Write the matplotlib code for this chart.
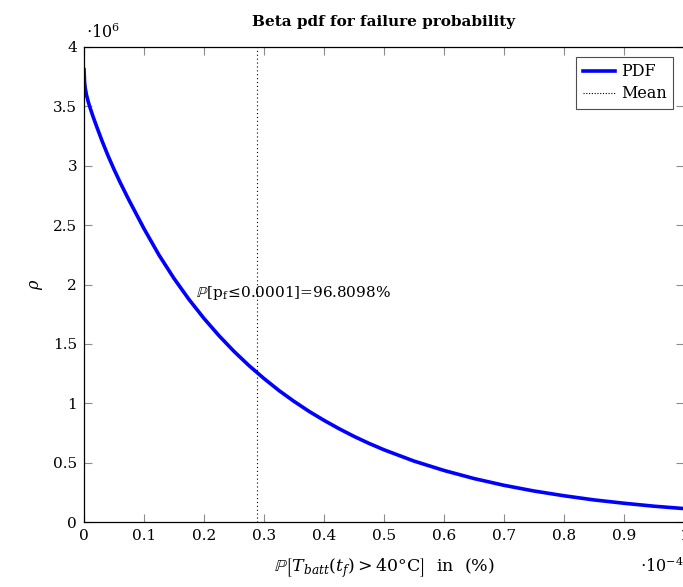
import matplotlib
matplotlib.use("Agg")
import matplotlib.pyplot as plt
from matplotlib.lines import Line2D

plt.rcParams['font.family'] = ['DejaVu Serif']
plt.rcParams['mathtext.fontset'] = 'dejavuserif'

# x in units of 1e-4, pdf in units of 1e6
x_e4 = [0.0, 0.001, 0.002, 0.004, 0.007, 0.01, 0.015, 0.02, 0.03, 0.04, 0.05,
        0.06, 0.075, 0.1, 0.125, 0.15, 0.175, 0.2, 0.225, 0.25, 0.275, 0.3,
        0.325, 0.35, 0.375, 0.4, 0.425, 0.45, 0.475, 0.5, 0.55, 0.6, 0.65,
        0.7, 0.75, 0.8, 0.85, 0.9, 0.95, 1.0]
pdf_e6 = [3.81, 3.70, 3.655, 3.60, 3.54, 3.49, 3.415, 3.345, 3.21, 3.085, 2.97,
          2.862, 2.71, 2.47, 2.248, 2.051, 1.874, 1.714, 1.569, 1.437, 1.317,
          1.208, 1.107, 1.016, 0.932, 0.856, 0.786, 0.721, 0.662, 0.608, 0.513,
          0.434, 0.366, 0.309, 0.261, 0.221, 0.186, 0.158, 0.133, 0.113]
mean_e4 = 0.289
xticks = [0, 0.1, 0.2, 0.3, 0.4, 0.5, 0.6, 0.7, 0.8, 0.9, 1.0]
xticklabels = ['0', '0.1', '0.2', '0.3', '0.4', '0.5', '0.6', '0.7', '0.8', '0.9', '1']
yticks = [0, 0.5, 1, 1.5, 2, 2.5, 3, 3.5, 4]
yticklabels = ['0', '0.5', '1', '1.5', '2', '2.5', '3', '3.5', '4']
annot = r'$\mathbb{P}[\mathrm{p_f}\!\leq\!0.0001]$=96.8098%'

W, H = 683, 587
fig = plt.figure(figsize=(W/100, H/100), dpi=100)
ax = fig.add_axes([84/W, 1-522/H, 600/W, 475/H])

ax.plot(x_e4, pdf_e6, color='#0000ff', lw=2.6, label='PDF', solid_joinstyle='round')
ax.axvline(mean_e4, color='black', lw=0.8, ls=(0, (1, 2.5)), label='Mean')

ax.set_xlim(0, 1)
ax.set_ylim(0, 4)
ax.set_xticks(xticks)
ax.set_xticklabels(xticklabels)
ax.set_yticks(yticks)
ax.set_yticklabels(yticklabels)
ax.tick_params(direction='in', length=5.5, width=0.8, color='0.55',
               top=True, right=True, labelsize=11, pad=5)
for s in ax.spines.values():
    s.set_linewidth(0.9)

ax.text(0.187, 1.93, annot, fontsize=11, va='center', ha='left')

ax.set_title('Beta pdf for failure probability', fontsize=11, fontweight='bold', pad=15)
ax.set_ylabel(r'$\rho$', fontsize=11.5, labelpad=6)
ax.set_xlabel(r'$\mathbb{P}\left[T_{batt}(t_f) > 40°\mathrm{C}\right]$  in  (%)', fontsize=12.5, labelpad=10)

fig.text(86/W, 1-33/H, r'$\cdot 10^{6}$', fontsize=11.5, ha='left', va='center')
fig.text(640/W, 1-566/H, r'$\cdot 10^{-4}$', fontsize=11.5, ha='left', va='center')

handles = [Line2D([], [], color='#0000ff', lw=2.6),
           Line2D([], [], color='black', lw=0.8, ls=(0, (1, 1.5)))]
leg = ax.legend(handles, ['PDF', 'Mean'], loc='upper right',
                bbox_to_anchor=(0.982, 0.979), borderaxespad=0, fontsize=11.5,
                fancybox=False, framealpha=1, edgecolor='0.3',
                handlelength=2.0, handletextpad=0.4, borderpad=0.4,
                labelspacing=0.3)
leg.get_frame().set_linewidth(0.8)

fig.savefig('out.png', dpi=100)
